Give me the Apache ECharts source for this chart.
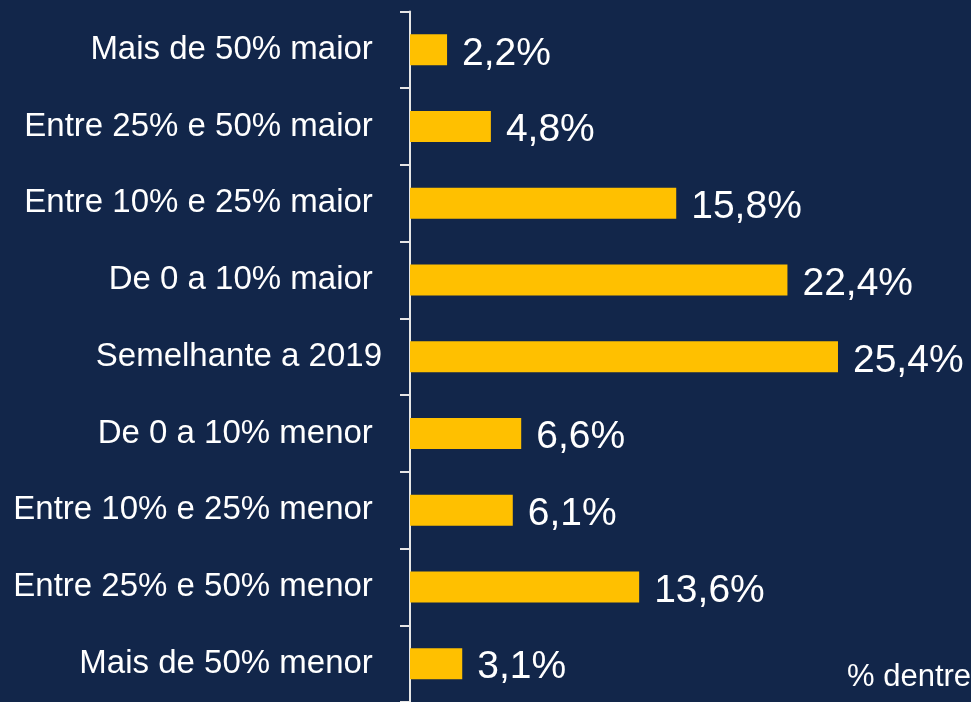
<!DOCTYPE html>
<html>
<head>
<meta charset="utf-8">
<script src="https://cdn.jsdelivr.net/npm/echarts@6/dist/echarts.min.js"></script>
<style>
  html, body { margin: 0; padding: 0; background: #12264a; }
  #chartBox { width: 971px; height: 702px; }
</style>
</head>
<body>
<div id="chartBox"></div>
<script>
// categorias (de cima para baixo)
const categories = [
  'Mais de 50% maior ',
  'Entre 25% e 50% maior ',
  'Entre 10% e 25% maior ',
  'De 0 a 10% maior ',
  'Semelhante a 2019',
  'De 0 a 10% menor ',
  'Entre 10% e 25% menor ',
  'Entre 25% e 50% menor ',
  'Mais de 50% menor '
]
// % dentre os respondentes
const values = [2.2, 4.8, 15.8, 22.4, 25.4, 6.6, 6.1, 13.6, 3.1]
const footNote = '% dentre'

const chart = echarts.init(document.getElementById('chartBox'), null, { renderer: 'canvas' })

const option = {
  backgroundColor: '#12264a',
  animation: false,
  grid: {
    left: 410,
    top: 11.5,
    width: 505.5,
    height: 695,
    containLabel: false
  },
  xAxis: {
    type: 'value',
    min: 0,
    max: 30,
    show: false
  },
  yAxis: {
    type: 'category',
    data: categories,
    inverse: true,
    axisLine: { show: true, lineStyle: { color: '#e6e6e6', width: 2 } },
    axisTick: { show: true, length: 10, lineStyle: { color: '#e6e6e6', width: 2 } },
    axisLabel: {
      margin: 28,
      color: '#ffffff',
      fontFamily: 'Liberation Sans, Arial, sans-serif',
      fontSize: 33
    },
    splitLine: { show: false }
  },
  series: [
    {
      type: 'bar',
      data: values,
      barWidth: 31,
      itemStyle: { color: '#ffc000' },
      label: {
        show: true,
        position: 'right',
        distance: 15,
        offset: [0, 4],
        color: '#ffffff',
        fontFamily: 'Liberation Sans, Arial, sans-serif',
        fontSize: 39,
        formatter: p => p.value.toFixed(1).replace('.', ',') + '%'
      }
    }
  ],
  graphic: [
    {
      type: 'text',
      left: 847,
      top: 662,
      style: {
        text: footNote,
        fill: '#ffffff',
        font: '31px Liberation Sans, Arial, sans-serif'
      }
    }
  ]
}
chart.setOption(option)
</script>
</body>
</html>
